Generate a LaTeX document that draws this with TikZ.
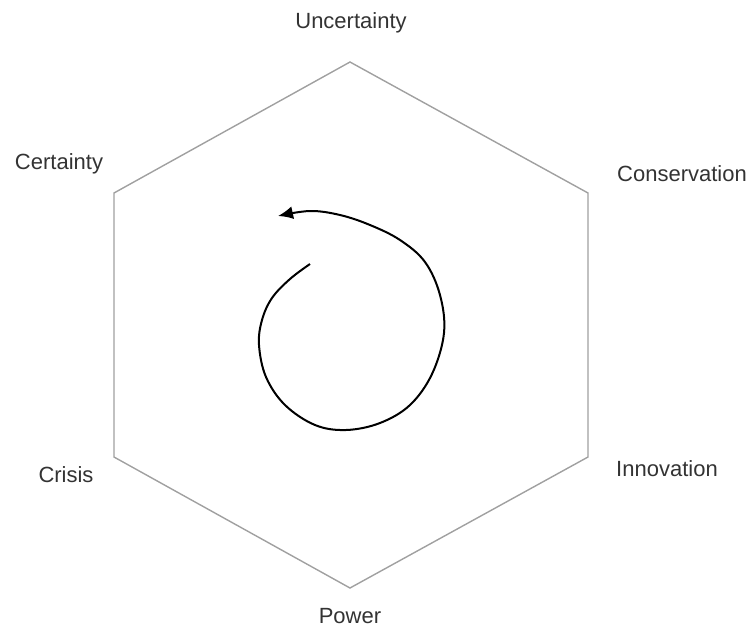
\documentclass[tikz,border=0pt]{standalone}
\usepackage{xcolor}
\usepackage{fontspec}
\setmainfont{Liberation Sans}
\usepackage{tikz}
\usetikzlibrary{calc}
\usetikzlibrary{arrows.meta}
\definecolor{edgegray}{HTML}{A0A0A0}
\definecolor{textgray}{HTML}{333333}

\begin{document}
\begin{tikzpicture}[x=1pt,y=-1pt,
	lbl/.style={font=\fontsize{22}{26}\selectfont,text=textgray,inner sep=0pt}]
	\useasboundingbox (0,0) rectangle (753,630);
	% corners of the hexagon
	\coordinate (top) at (350,62);
	\coordinate (ur) at (588,193);
	\coordinate (lr) at (588,457);
	\coordinate (bot) at (350,588);
	\coordinate (ll) at (114,457);
	\coordinate (ul) at (114,193);
	\draw[edgegray,line width=1.4pt] (top)--(ur)--(lr)--(bot)--(ll)--(ul)--cycle;
	% labels
	\node[lbl] (uncertainty) at (351,23) {Uncertainty};
	\node[lbl] (conservation) at (682,174) {Conservation};
	\node[lbl] (innovation) at (667,469) {Innovation};
	\node[lbl] (power) at (350,616) {Power};
	\node[lbl] (crisis) at (66,475) {Crisis};
	\node[lbl] (certainty) at (59,164) {Certainty};
	% the cycle
	\draw[black,line width=2pt,-{Latex[length=15pt,width=13pt]}] plot[smooth,tension=0.6] coordinates {
		(310,264) (290,279) (272,298) (262,320) (259,345) (266,377) (285,405)
		(315,425) (346,430) (380,423) (410,405) (432,374) (444,333) (440,295)
		(425,262) (400,240) (370,225) (340,215) (310,211) (278,216)};
\end{tikzpicture}
\end{document}
